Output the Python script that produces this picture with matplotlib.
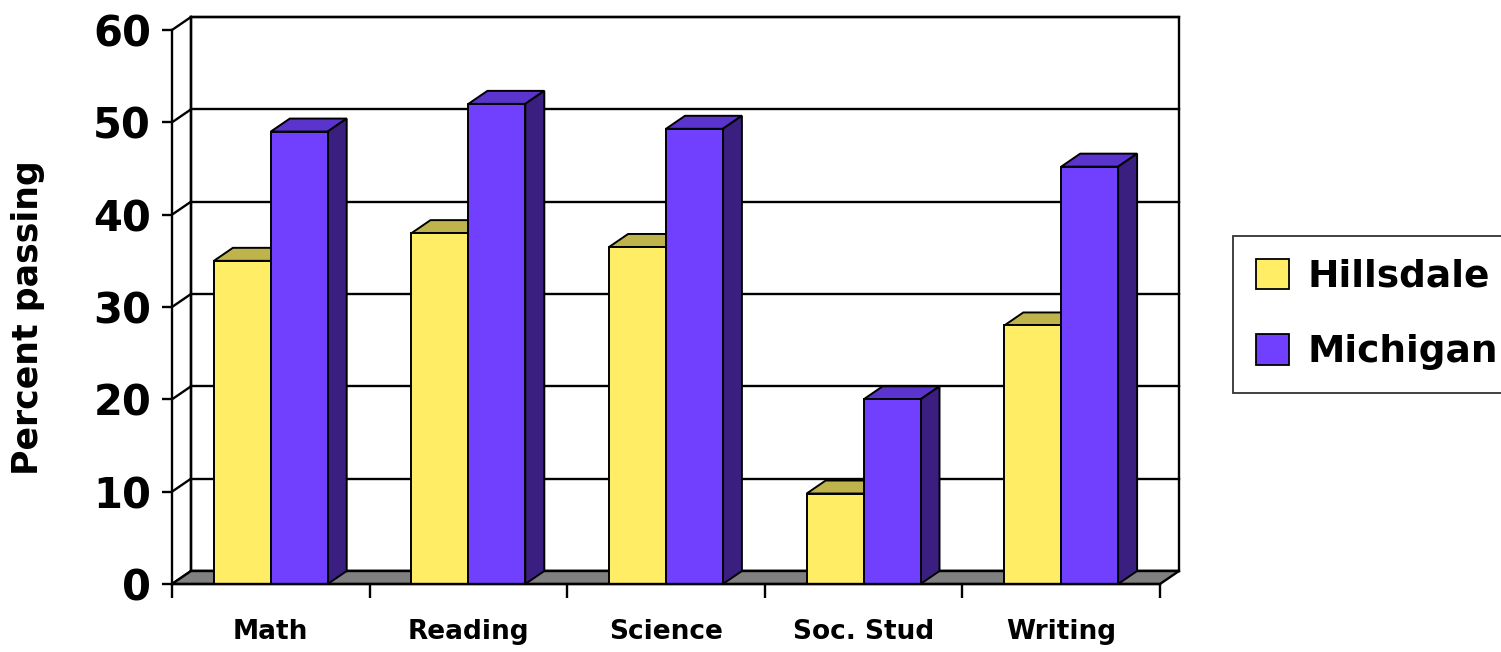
import numpy as np
import matplotlib
matplotlib.use("Agg")
import matplotlib.pyplot as plt
from matplotlib.patches import Polygon, Patch

# data
categories = ["Math", "Reading", "Science", "Soc. Stud", "Writing"]
hillsdale = [35, 38, 36.5, 9.8, 28]
michigan = [49, 52, 49.3, 20, 45.2]
series_names = ["Hillsdale", "Michigan"]
y_ticks = [0, 10, 20, 30, 40, 50, 60]

# colours: front, top, side
colors = {
    "Hillsdale": ("#FFED66", "#BFB44C", "#8F8636"),
    "Michigan": ("#7140FF", "#5A34CC", "#3A1F80"),
}
floor_color = "#808080"

W, H = 1501, 652
fig = plt.figure(figsize=(W / 100, H / 100), dpi=100)
ax = fig.add_axes([0, 0, 1, 1])

# map pixels: x 0 -> 172px, 5 -> 1160px ; y 0 -> 584px, 60 -> 30px
ux = (1160 - 172) / 5.0
uy = (584 - 30) / 60.0
ax.set_xlim(-172 / ux, (W - 172) / ux)
ax.set_ylim(-(H - 584) / uy, 584 / uy)

DX = 19 / ux   # depth offset
DY = 13 / uy
ncat = len(categories)
bw = 0.288

lw = 1.7
# back wall
ax.add_patch(Polygon([(DX, DY), (ncat + DX, DY), (ncat + DX, 60 + DY), (DX, 60 + DY)],
                     closed=True, facecolor="white", edgecolor="black", lw=lw, zorder=1))
for v in y_ticks:
    ax.plot([DX, ncat + DX], [v + DY, v + DY], color="black", lw=lw, zorder=1.1)
    ax.plot([0, DX], [v, v + DY], color="black", lw=lw, zorder=1.1)
ax.plot([DX, DX], [DY, 60 + DY], color="black", lw=lw, zorder=1.1)

# floor
ax.add_patch(Polygon([(0, 0), (ncat, 0), (ncat + DX, DY), (DX, DY)], closed=True,
                     facecolor=floor_color, edgecolor="black", lw=lw, zorder=2))

# bars
centers = np.arange(ncat) + 0.5
for k, (name, vals) in enumerate(zip(series_names, [hillsdale, michigan])):
    front, top, side = colors[name]
    xs = centers - bw + k * bw
    z = 3 + k
    for x, v in zip(xs, vals):
        ax.add_patch(Polygon([(x, v), (x + bw, v), (x + bw + DX, v + DY), (x + DX, v + DY)],
                             closed=True, facecolor=top, edgecolor="black", lw=1.4, zorder=z))
        ax.add_patch(Polygon([(x + bw, 0), (x + bw + DX, DY), (x + bw + DX, v + DY), (x + bw, v)],
                             closed=True, facecolor=side, edgecolor="black", lw=1.4, zorder=z))
    ax.bar(xs, vals, width=bw, align="edge", color=front, edgecolor="black",
           linewidth=1.4, zorder=z + 0.5)

# front axes
for s in ["top", "right"]:
    ax.spines[s].set_visible(False)
ax.spines["left"].set_position(("data", 0))
ax.spines["left"].set_bounds(0, 60)
ax.spines["bottom"].set_position(("data", 0))
ax.spines["bottom"].set_bounds(0, ncat)
for s in ["left", "bottom"]:
    ax.spines[s].set_linewidth(lw)
    ax.spines[s].set_zorder(10)

ax.set_yticks(y_ticks)
ax.set_yticklabels([str(t) for t in y_ticks], fontsize=30, fontweight="bold")
ax.tick_params(axis="y", length=7, width=lw, pad=8)

ax.set_xticks(centers)
ax.set_xticklabels(categories, fontsize=19, fontweight="bold")
ax.set_xticks(np.arange(ncat + 1), minor=True)
ax.tick_params(axis="x", which="major", length=0, pad=25)
ax.tick_params(axis="x", which="minor", length=10, width=lw)

ax.text(-(172 - 28) / ux, 28.8, "Percent passing", rotation=90, fontsize=25,
        fontweight="bold", ha="center", va="center")

handles = [Patch(facecolor=colors[n][0], edgecolor="black", lw=1.3) for n in series_names]
leg = fig.legend(handles, series_names, loc="upper left",
                 bbox_to_anchor=(1233 / W, 1 - 236 / H), borderaxespad=0,
                 prop={"size": 27, "weight": "bold"}, frameon=True, fancybox=False,
                 handlelength=0.88, handleheight=0.88, handletextpad=0.5,
                 labelspacing=1.05, borderpad=0.6)
leg.get_frame().set_edgecolor("black")
leg.get_frame().set_linewidth(1.3)

fig.savefig("out.png", dpi=100)
